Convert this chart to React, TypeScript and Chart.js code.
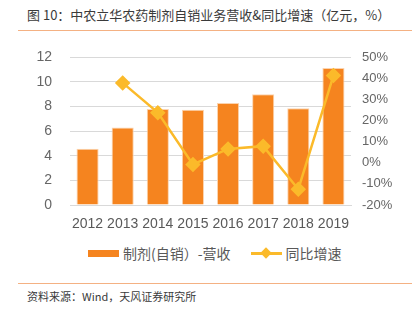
import React, { useEffect, useRef } from "react";
import { Chart, registerables } from "chart.js";

Chart.register(...registerables);

const years = ["2012", "2013", "2014", "2015", "2016", "2017", "2018", "2019"];
const revenue = [4.57, 6.3, 7.8, 7.75, 8.3, 9.0, 7.87, 11.14];
const growth = [null, 37.9, 23.8, -0.8, 6.6, 7.9, -12.5, 41.4];
const leftTicks = [0, 2, 4, 6, 8, 10, 12];
const rightTicks = [-20, -10, 0, 10, 20, 30, 40, 50];

const BAR = "#F5841F";
const LINE = "#FBBA2A";
const FONT = "'Liberation Sans', 'Noto Sans CJK SC', sans-serif";
const CJK = "'Noto Sans CJK SC', 'Liberation Sans', sans-serif";

export default function App() {
  const ref = useRef<HTMLCanvasElement | null>(null);

  useEffect(() => {
    document.body.style.margin = "0";
    const canvas = ref.current!;
    const chart = new Chart(canvas, {
      data: {
        labels: years,
        datasets: [
          {
            type: "line",
            label: "同比增速",
            data: growth as any,
            yAxisID: "y1",
            borderColor: LINE,
            backgroundColor: LINE,
            borderWidth: 2.5,
            pointStyle: "rectRot",
            pointRadius: 6,
            pointBackgroundColor: LINE,
            pointBorderColor: LINE,
            tension: 0,
            spanGaps: false,
            order: 0,
          },
          {
            type: "bar",
            label: "制剂(自销）-营收",
            data: revenue,
            yAxisID: "y",
            backgroundColor: BAR,
            borderColor: "#FBD3AE",
            borderWidth: { top: 1, left: 1, right: 1, bottom: 0 } as any,
            categoryPercentage: 1,
            barPercentage: 0.63,
            order: 1,
          },
        ],
      } as any,
      options: {
        animation: false,
        responsive: false,
        maintainAspectRatio: false,
        layout: { padding: { top: 7, bottom: 0, left: 0, right: 0 } },
        plugins: {
          legend: { display: false },
          tooltip: { enabled: false },
        },
        scales: {
          x: {
            grid: { display: false, drawTicks: false },
            border: { display: true, color: "#D9D9D9", width: 1 },
            ticks: {
              color: "#595959",
              font: { family: FONT, size: 14 },
              padding: 11,
              maxRotation: 0,
            },
            afterFit: (s: any) => {
              s.height = 35;
            },
          },
          y: {
            position: "left",
            min: 0,
            max: 12,
            afterBuildTicks: (s: any) => {
              s.ticks = leftTicks.map((v) => ({ value: v }));
            },
            grid: { color: "#D9D9D9", lineWidth: 1, drawTicks: false },
            border: { display: false },
            ticks: {
              color: "#666666",
              font: { family: FONT, size: 14 },
              padding: 18,
            },
            afterFit: (s: any) => {
              s.width = 70;
            },
          },
          y1: {
            position: "right",
            min: -20,
            max: 50,
            afterBuildTicks: (s: any) => {
              s.ticks = rightTicks.map((v) => ({ value: v }));
            },
            grid: { display: false, drawTicks: false },
            border: { display: false },
            ticks: {
              color: "#666666",
              font: { family: FONT, size: 13 },
              padding: 11,
              callback: (v: any) => `${v}%`,
            },
            afterFit: (s: any) => {
              s.width = 67;
            },
          },
        },
      },
    });
    return () => chart.destroy();
  }, []);

  return (
    <div
      style={{
        position: "fixed",
        left: 0,
        top: 0,
        width: 418,
        height: 312,
        background: "#fff",
        overflow: "hidden",
      }}
    >
      <div
        style={{
          position: "absolute",
          left: 27,
          top: 5,
          fontFamily: CJK,
          fontSize: 13,
          color: "#3a3a3a",
          whiteSpace: "nowrap",
          lineHeight: "20px",
        }}
      >
        图 10：中农立华农药制剂自销业务营收&amp;同比增速（亿元，%）
      </div>
      <div
        style={{
          position: "absolute",
          left: 18,
          top: 30,
          width: 394,
          height: 0,
          borderTop: "1.5px solid #F4B183",
        }}
      />
      <canvas
        ref={ref}
        width={418}
        height={209}
        style={{ position: "absolute", left: 0, top: 31, width: 418, height: 209 }}
      />
      <div
        style={{
          position: "absolute",
          left: 88,
          top: 243,
          height: 20,
          display: "flex",
          alignItems: "center",
          fontFamily: CJK,
          fontSize: 14,
          color: "#595959",
          whiteSpace: "nowrap",
        }}
      >
        <span style={{ display: "inline-block", width: 31, height: 7, background: BAR, marginRight: 4 }} />
        <span>制剂(自销）-营收</span>
        <span
          style={{
            display: "inline-block",
            position: "relative",
            width: 31,
            height: 10,
            marginLeft: 20,
            marginRight: 4,
          }}
        >
          <span style={{ position: "absolute", left: 0, top: 4, width: 31, height: 2.5, background: LINE }} />
          <span
            style={{
              position: "absolute",
              left: 11,
              top: 0.5,
              width: 8,
              height: 8,
              background: LINE,
              transform: "rotate(45deg)",
            }}
          />
        </span>
        <span>同比增速</span>
      </div>
      <div
        style={{
          position: "absolute",
          left: 18,
          top: 283,
          width: 394,
          height: 0,
          borderTop: "1.5px solid #F4B183",
        }}
      />
      <div
        style={{
          position: "absolute",
          left: 27,
          top: 288,
          fontFamily: CJK,
          fontSize: 11,
          color: "#3a3a3a",
          whiteSpace: "nowrap",
          lineHeight: "16px",
        }}
      >
        资料来源：Wind，天风证券研究所
      </div>
    </div>
  );
}
